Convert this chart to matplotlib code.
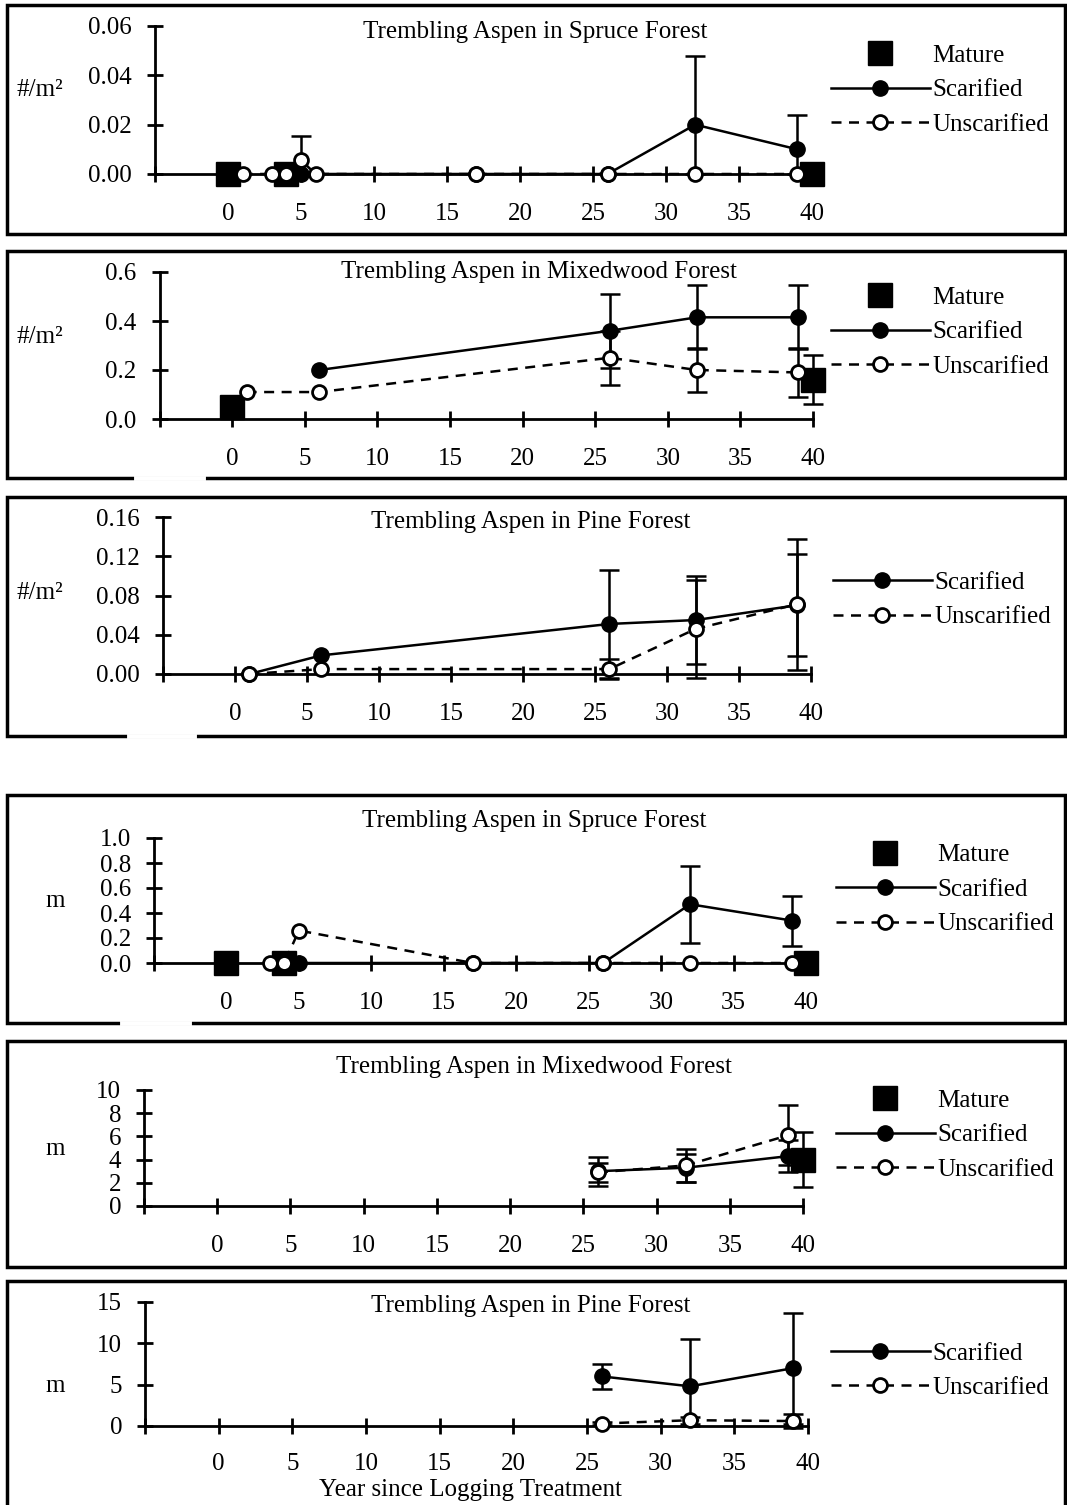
import numpy as np
import matplotlib.pyplot as plt
from matplotlib.lines import Line2D
from matplotlib.patches import Rectangle

plt.rcParams["font.family"] = ["Liberation Serif", "DejaVu Serif"]

W, H = 1067, 1505
FS = 18

# ---------------- density, spruce ----------------
den_spruce_mat_x = [0, 4, 40]
den_spruce_mat_y = [0, 0, 0]
den_spruce_scar_x = [5, 17, 26, 32, 39]
den_spruce_scar_y = [0, 0, 0, 0.020, 0.010]
den_spruce_scar_lo = [0, 0, 0, 0.020, 0.010]
den_spruce_scar_hi = [0, 0, 0, 0.028, 0.014]
den_spruce_uns_x = [1, 3, 4, 5, 6, 17, 26, 32, 39]
den_spruce_uns_y = [0, 0, 0, 0.0056, 0, 0, 0, 0, 0]
den_spruce_uns_lo = [0, 0, 0, 0.0056, 0, 0, 0, 0, 0]
den_spruce_uns_hi = [0, 0, 0, 0.0098, 0, 0, 0, 0, 0]

# ---------------- density, mixedwood ----------------
den_mixed_mat_x = [0, 40]
den_mixed_mat_y = [0.05, 0.16]
den_mixed_mat_err = [0, 0.10]
den_mixed_scar_x = [6, 26, 32, 39]
den_mixed_scar_y = [0.20, 0.36, 0.415, 0.415]
den_mixed_scar_err = [0, 0.15, 0.13, 0.13]
den_mixed_uns_x = [1, 6, 26, 32, 39]
den_mixed_uns_y = [0.11, 0.11, 0.25, 0.20, 0.19]
den_mixed_uns_err = [0, 0, 0.11, 0.09, 0.10]

# ---------------- density, pine ----------------
den_pine_scar_x = [1, 6, 26, 32, 39]
den_pine_scar_y = [0, 0.019, 0.051, 0.055, 0.070]
den_pine_scar_err = [0, 0, 0.055, 0.045, 0.052]
den_pine_uns_x = [1, 6, 26, 32, 39]
den_pine_uns_y = [0, 0.005, 0.005, 0.046, 0.071]
den_pine_uns_err = [0, 0, 0.010, 0.050, 0.067]

# ---------------- height, spruce ----------------
ht_spruce_mat_x = [0, 4, 40]
ht_spruce_mat_y = [0, 0, 0]
ht_spruce_scar_x = [5, 17, 26, 32, 39]
ht_spruce_scar_y = [0, 0, 0, 0.47, 0.34]
ht_spruce_scar_err = [0, 0, 0, 0.31, 0.20]
ht_spruce_uns_x = [3, 4, 5, 17, 26, 32, 39]
ht_spruce_uns_y = [0, 0, 0.26, 0, 0, 0, 0]

# ---------------- height, mixedwood ----------------
ht_mixed_mat_x = [40]
ht_mixed_mat_y = [4.0]
ht_mixed_mat_err = [2.4]
ht_mixed_scar_x = [26, 32, 39]
ht_mixed_scar_y = [3.0, 3.3, 4.3]
ht_mixed_scar_err = [1.25, 1.2, 1.4]
ht_mixed_uns_x = [26, 32, 39]
ht_mixed_uns_y = [2.9, 3.5, 6.1]
ht_mixed_uns_err = [0.8, 1.4, 2.6]

# ---------------- height, pine ----------------
ht_pine_scar_x = [26, 32, 39]
ht_pine_scar_y = [6.0, 4.8, 7.0]
ht_pine_scar_lo = [1.5, 4.8, 6.7]
ht_pine_scar_hi = [1.5, 5.7, 6.7]
ht_pine_uns_x = [26, 32, 39]
ht_pine_uns_y = [0.3, 0.7, 0.6]
ht_pine_uns_err = [0.2, 0.4, 0.9]

titles = ["Trembling Aspen in Spruce Forest",
          "Trembling Aspen in Mixedwood Forest",
          "Trembling Aspen in Pine Forest"] * 2
x_ticks = list(range(-5, 41, 5))
x_ticklabels = [""] + [str(v) for v in range(0, 41, 5)]

series = [
    dict(mat=(den_spruce_mat_x, den_spruce_mat_y, None, None),
         scar=(den_spruce_scar_x, den_spruce_scar_y, den_spruce_scar_lo, den_spruce_scar_hi),
         uns=(den_spruce_uns_x, den_spruce_uns_y, den_spruce_uns_lo, den_spruce_uns_hi)),
    dict(mat=(den_mixed_mat_x, den_mixed_mat_y, den_mixed_mat_err, den_mixed_mat_err),
         scar=(den_mixed_scar_x, den_mixed_scar_y, den_mixed_scar_err, den_mixed_scar_err),
         uns=(den_mixed_uns_x, den_mixed_uns_y, den_mixed_uns_err, den_mixed_uns_err)),
    dict(mat=None,
         scar=(den_pine_scar_x, den_pine_scar_y, den_pine_scar_err, den_pine_scar_err),
         uns=(den_pine_uns_x, den_pine_uns_y, den_pine_uns_err, den_pine_uns_err)),
    dict(mat=(ht_spruce_mat_x, ht_spruce_mat_y, None, None),
         scar=(ht_spruce_scar_x, ht_spruce_scar_y, ht_spruce_scar_err, ht_spruce_scar_err),
         uns=(ht_spruce_uns_x, ht_spruce_uns_y, None, None)),
    dict(mat=(ht_mixed_mat_x, ht_mixed_mat_y, ht_mixed_mat_err, ht_mixed_mat_err),
         scar=(ht_mixed_scar_x, ht_mixed_scar_y, ht_mixed_scar_err, ht_mixed_scar_err),
         uns=(ht_mixed_uns_x, ht_mixed_uns_y, ht_mixed_uns_err, ht_mixed_uns_err)),
    dict(mat=None,
         scar=(ht_pine_scar_x, ht_pine_scar_y, ht_pine_scar_lo, ht_pine_scar_hi),
         uns=(ht_pine_uns_x, ht_pine_uns_y, ht_pine_uns_err, ht_pine_uns_err)),
]

# layout in pixels: axes x(-5), x(40), y(top), y(bottom); ylim; yticks; label fmt
layout = [
    dict(ax=(155, 812, 26, 174), ylim=(0, 0.06), step=0.02, fmt="{:.2f}", ylab="#/m²",
         ylab_xy=(40, 90), box=(7, 5, 1065, 234), title_xy=(535, 32), leg=(831, 90), xpad=15.5),
    dict(ax=(159.5, 813, 272, 419), ylim=(0, 0.6), step=0.2, fmt="{:.1f}", ylab="#/m²",
         ylab_xy=(40, 337), box=(7, 251, 1065, 478), title_xy=(539, 272), leg=(831, 332), xpad=15.5),
    dict(ax=(163, 811, 517, 674), ylim=(0, 0.16), step=0.04, fmt="{:.2f}", ylab="#/m²",
         ylab_xy=(40, 593), box=(7, 497, 1065, 736), title_xy=(531, 522), leg=(833, 600), xpad=15.5),
    dict(ax=(154, 806, 838, 963), ylim=(0, 1.0), step=0.2, fmt="{:.1f}", ylab="m",
         ylab_xy=(55, 901), box=(7, 795, 1065, 1023), title_xy=(534, 821), leg=(836, 889.5), xpad=15.5),
    dict(ax=(144, 803, 1090, 1206), ylim=(0, 10), step=2, fmt="{:.0f}", ylab="m",
         ylab_xy=(55, 1149), box=(7, 1041, 1065, 1267), title_xy=(534, 1067), leg=(836, 1135), xpad=15.5),
    dict(ax=(145, 808, 1302, 1426), ylim=(0, 15), step=5, fmt="{:.0f}", ylab="m",
         ylab_xy=(55, 1386), box=(7, 1281, 1065, 1530), title_xy=(531, 1306), leg=(831, 1370.5), xpad=14),
]

# white gaps in the bottom border of some boxes
gaps = [(136, 203, 478), (129, 194, 736), (122, 189, 1023)]

mat_style = dict(marker="s", ls="none", ms=17, color="k")
scar_style = dict(marker="o", ls="-", lw=1.8, ms=11, color="k")
uns_style = dict(marker="o", ls=(0, (4, 3)), lw=1.8, ms=10, color="k",
                 mfc="white", mec="k", mew=2)

fig = plt.figure(figsize=(W / 100, H / 100), dpi=100)


def draw_errors(ax, x, y, lo, hi):
    if lo is None:
        return
    x, y, lo, hi = map(np.asarray, (x, y, lo, hi))
    keep = (lo > 0) | (hi > 0)
    if keep.any():
        ax.errorbar(x[keep], y[keep], yerr=[lo[keep], hi[keep]], fmt="none",
                    ecolor="k", elinewidth=1.8, capsize=7.5, capthick=1.8,
                    clip_on=False, zorder=2)


for i, (lay, ser) in enumerate(zip(layout, series)):
    xl, xr, yt, yb = lay["ax"]
    ax = fig.add_axes([xl / W, 1 - yb / H, (xr - xl) / W, (yb - yt) / H])
    ax.set_xlim(-5, 40)
    ax.set_ylim(*lay["ylim"])
    ax.patch.set_alpha(0)

    for key in ("mat", "scar", "uns"):
        if ser[key] is not None:
            x, y, lo, hi = ser[key]
            draw_errors(ax, x, y, lo, hi)
    if ser["mat"] is not None:
        ax.plot(ser["mat"][0], ser["mat"][1], clip_on=False, zorder=3, **mat_style)
    ax.plot(ser["scar"][0], ser["scar"][1], clip_on=False, zorder=4, **scar_style)
    ax.plot(ser["uns"][0], ser["uns"][1], clip_on=False, zorder=5, **uns_style)

    for s in ("top", "right"):
        ax.spines[s].set_visible(False)
    for s in ("left", "bottom"):
        ax.spines[s].set_linewidth(2)
    ax.set_xticks(x_ticks)
    ax.set_xticklabels(x_ticklabels)
    yt_vals = np.arange(lay["ylim"][0], lay["ylim"][1] + lay["step"] / 2, lay["step"])
    ax.set_yticks(yt_vals)
    ax.set_yticklabels([lay["fmt"].format(v) for v in yt_vals])
    ax.tick_params(direction="inout", length=11, width=2, labelsize=FS)
    ax.tick_params(axis="x", pad=lay["xpad"])
    ax.tick_params(axis="y", pad=11)

    fig.text(lay["title_xy"][0] / W, 1 - lay["title_xy"][1] / H, titles[i],
             ha="center", va="center", fontsize=FS)
    fig.text(lay["ylab_xy"][0] / W, 1 - lay["ylab_xy"][1] / H, lay["ylab"],
             ha="center", va="center", fontsize=FS)

    bx0, by0, bx1, by1 = lay["box"]
    fig.add_artist(Rectangle((bx0 / W, 1 - by1 / H), (bx1 - bx0) / W, (by1 - by0) / H,
                             transform=fig.transFigure, fill=False, ec="k", lw=2.5))

    handles = []
    labels = []
    if ser["mat"] is not None:
        handles.append(Line2D([], [], **mat_style))
        labels.append("Mature")
    handles.append(Line2D([], [], **scar_style))
    labels.append("Scarified")
    handles.append(Line2D([], [], **uns_style))
    labels.append("Unscarified")
    fig.legend(handles, labels, loc="center left",
               bbox_to_anchor=(lay["leg"][0] / W, 1 - lay["leg"][1] / H),
               bbox_transform=fig.transFigure, frameon=False, fontsize=FS,
               borderpad=0, borderaxespad=0, handlelength=3.95, handletextpad=0.1,
               labelspacing=0.48, numpoints=1)

for gx0, gx1, gy in gaps:
    fig.add_artist(Line2D([gx0 / W, gx1 / W], [1 - gy / H] * 2, color="white", lw=3.5,
                          transform=fig.transFigure))

fig.text(470 / W, 1 - 1490 / H, "Year since Logging Treatment", ha="center", va="center",
         fontsize=FS)

fig.savefig("out.png", dpi=100)
